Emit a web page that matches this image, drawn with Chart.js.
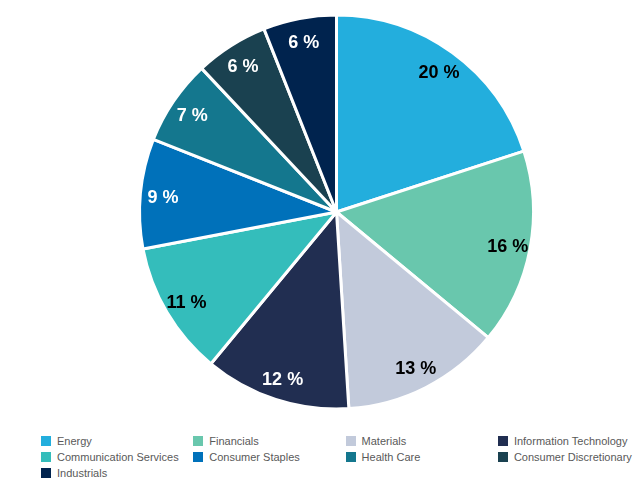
<!DOCTYPE html>
<html>
<head>
<meta charset="utf-8">
<script src="https://cdn.jsdelivr.net/npm/chart.js@4"></script>
<style>
  body { margin: 0; background: #fff; font-family: "Liberation Sans", Arial, sans-serif; }
  #wrap { position: absolute; left: 0; top: 0; width: 640px; height: 420px; }
  #legend { position: absolute; left: 41px; top: 433px; width: 610px; display: grid; grid-template-columns: repeat(4, 152.3px); grid-auto-rows: 16px; }
  .item { height: 16px; line-height: 16px; font-size: 11px; color: #595959; white-space: nowrap; display: flex; align-items: center; }
  .box { width: 10px; height: 10px; margin-right: 6px; flex: none; }
</style>
</head>
<body>
<div id="wrap"><canvas id="chart"></canvas></div>
<div id="legend"></div>
<script>
// Sector weights (%)
const sectors = ["Energy", "Financials", "Materials", "Information Technology", "Communication Services",
  "Consumer Staples", "Health Care", "Consumer Discretionary", "Industrials"];
const weights = [20, 16, 13, 12, 11, 9, 7, 6, 6];
const colors = ["#23aedd", "#69c7ad", "#c2cadb", "#212e51", "#34bdbb", "#0071ba", "#14778e", "#1a4150", "#00234e"];
const labelColors = ["#000", "#000", "#000", "#fff", "#000", "#fff", "#fff", "#fff", "#fff"];

// draws "20 %" style labels inside each slice
const sliceLabels = {
  id: "sliceLabels",
  afterDatasetsDraw(chart) {
    const ctx = chart.ctx;
    const meta = chart.getDatasetMeta(0);
    ctx.save();
    ctx.font = "bold 18px 'Liberation Sans', Arial, sans-serif";
    ctx.textAlign = "center";
    ctx.textBaseline = "middle";
    meta.data.forEach((arc, i) => {
      const p = arc.getProps(["x", "y", "startAngle", "endAngle", "outerRadius"], true);
      const mid = (p.startAngle + p.endAngle) / 2;
      const r = p.outerRadius * 0.885;
      ctx.fillStyle = labelColors[i];
      ctx.fillText(weights[i] + " %", p.x + Math.cos(mid) * r, p.y + Math.sin(mid) * r + 2);
    });
    ctx.restore();
  }
};

const chart = new Chart(document.getElementById("chart"), {
  type: "pie",
  data: {
    labels: sectors,
    datasets: [{
      data: weights,
      backgroundColor: colors,
      borderColor: "#fff",
      borderWidth: 3,
      radius: 197
    }]
  },
  options: {
    responsive: true,
    maintainAspectRatio: false,
    animation: false,
    layout: { padding: { left: 33, right: 0, top: 15, bottom: 11 } },
    plugins: {
      legend: { display: false },
      tooltip: { enabled: false }
    }
  },
  plugins: [sliceLabels]
});

// html legend in a 4-column grid
const legend = document.getElementById("legend");
chart.options.plugins.legend.labels.generateLabels(chart).forEach((item) => {
  const div = document.createElement("div");
  div.className = "item";
  const box = document.createElement("span");
  box.className = "box";
  box.style.background = item.fillStyle;
  div.appendChild(box);
  div.appendChild(document.createTextNode(item.text));
  legend.appendChild(div);
});
</script>
</body>
</html>
